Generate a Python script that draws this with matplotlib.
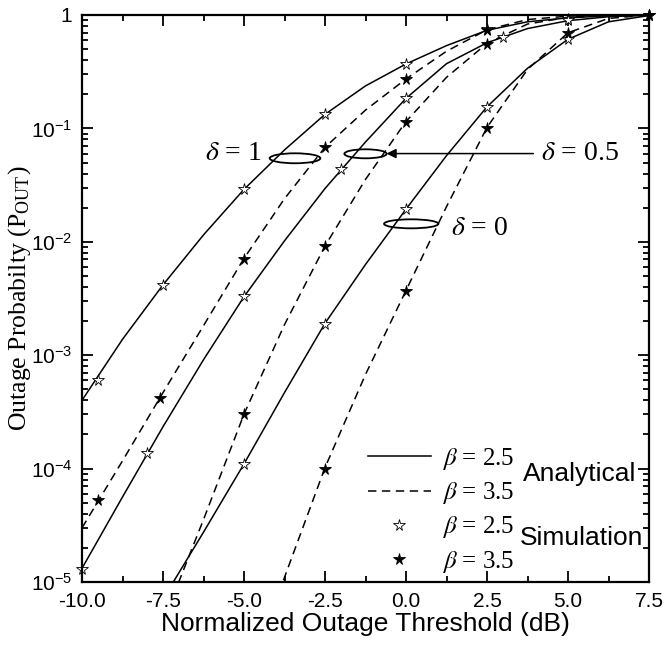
import numpy as np
import matplotlib
matplotlib.use("Agg")
import matplotlib.pyplot as plt
from matplotlib.lines import Line2D
from matplotlib.patches import Ellipse
from matplotlib.ticker import FixedLocator, LogLocator, NullFormatter, FuncFormatter

plt.rcParams['mathtext.fontset'] = 'stix'

# ---------------- data ----------------
x_grid = [-10, -8.75, -7.5, -6.25, -5, -3.75, -2.5, -1.25, 0, 1.25, 2.5, 3.75, 5, 6.25, 7.5]

# delta = 1
d1_b25_x = x_grid
d1_b25_p = [4.0e-4, 1.38e-3, 4.17e-3, 1.15e-2, 2.90e-2, 6.46e-2, 0.133, 0.237, 0.370, 0.537, 0.733, 0.871, 0.944, 0.982, 0.995]
d1_b35_x = x_grid
d1_b35_p = [3.0e-5, 1.17e-4, 4.68e-4, 1.82e-3, 7.14e-3, 2.40e-2, 6.81e-2, 0.145, 0.273, 0.479, 0.741, 0.912, 0.977, 0.995, 1.0]

# delta = 0.5
d05_b25_x = x_grid
d05_b25_p = [1.32e-5, 5.62e-5, 2.34e-4, 9.12e-4, 3.28e-3, 1.02e-2, 2.95e-2, 7.59e-2, 0.184, 0.372, 0.569, 0.759, 0.891, 0.966, 0.995]
d05_b35_x = [-7.5, -6.25, -5, -3.75, -2.5, -1.25, 0, 1.25, 2.5, 3.75, 5, 6.25, 7.5]
d05_b35_p = [4.47e-6, 3.55e-5, 3.02e-4, 1.86e-3, 9.18e-3, 3.55e-2, 0.115, 0.282, 0.562, 0.832, 0.955, 0.991, 1.0]

# delta = 0
d0_b25_x = [-7.5, -6.25, -5, -3.75, -2.5, -1.25, 0, 1.25, 2.5, 3.75, 5, 6.25, 7.5]
d0_b25_p = [7.08e-6, 2.75e-5, 1.10e-4, 4.68e-4, 1.91e-3, 6.31e-3, 1.94e-2, 5.75e-2, 0.155, 0.339, 0.611, 0.871, 0.989]
d0_b35_x = [-5, -3.75, -2.5, -1.25, 0, 1.25, 2.5, 3.75, 5, 6.25, 7.5]
d0_b35_p = [1.0e-6, 1.10e-5, 1.02e-4, 6.76e-4, 3.72e-3, 2.04e-2, 0.102, 0.331, 0.698, 0.933, 1.0]

# simulation points, beta = 2.5 (hollow stars)
sim25_d1_x = [-9.5, -7.5, -5, -2.5, 0, 2.5, 5, 7.5]
sim25_d1_p = [6.0e-4, 4.2e-3, 2.9e-2, 0.133, 0.37, 0.75, 0.93, 0.99]
sim25_d05_x = [-10, -8, -5, -2, 0, 3, 5]
sim25_d05_p = [1.3e-5, 1.36e-4, 3.3e-3, 4.4e-2, 0.184, 0.64, 0.90]
sim25_d0_x = [-5, -2.5, 0, 2.5, 5, 7.5]
sim25_d0_p = [1.1e-4, 1.9e-3, 1.94e-2, 0.155, 0.61, 0.99]

# simulation points, beta = 3.5 (filled stars)
sim35_d1_x = [-9.5, -7.6, -5, -2.5, 0, 2.5]
sim35_d1_p = [5.3e-5, 4.2e-4, 7.1e-3, 6.8e-2, 0.27, 0.74]
sim35_d05_x = [-5, -2.5, 0, 2.5]
sim35_d05_p = [3.0e-4, 9.2e-3, 0.115, 0.56]
sim35_d0_x = [-2.5, 0, 2.5, 5, 7.5]
sim35_d0_p = [1.0e-4, 3.7e-3, 0.10, 0.70, 0.99]

x_ticks = [-10.0, -7.5, -5.0, -2.5, 0.0, 2.5, 5.0, 7.5]
x_tick_labels = ['-10.0', '-7.5', '-5.0', '-2.5', '0.0', '2.5', '5.0', '7.5']
legend_labels = [r'$\beta$ = 2.5', r'$\beta$ = 3.5', r'$\beta$ = 2.5', r'$\beta$ = 3.5']

# ---------------- figure ----------------
W, H = 667, 645
fig = plt.figure(figsize=(W / 100, H / 100), dpi=100)
ax = fig.add_axes([82 / W, (H - 582) / H, 567 / W, 567 / H])

LW = 1.1
DASH = (0, (5.5, 3.6))
solid_kw = dict(color='black', lw=LW, ls='-')
dash_kw = dict(color='black', lw=LW, ls=DASH)
hollow_kw = dict(ls='none', marker='*', ms=8.5, mfc='white', mec='black', mew=0.6)
filled_kw = dict(ls='none', marker='*', ms=8.5, mfc='black', mec='black', mew=0.6)

for xs, ps in [(d1_b25_x, d1_b25_p), (d05_b25_x, d05_b25_p), (d0_b25_x, d0_b25_p)]:
    ax.plot(xs, ps, **solid_kw)
for xs, ps in [(d1_b35_x, d1_b35_p), (d05_b35_x, d05_b35_p), (d0_b35_x, d0_b35_p)]:
    ax.plot(xs, ps, **dash_kw)
for xs, ps in [(sim25_d1_x, sim25_d1_p), (sim25_d05_x, sim25_d05_p), (sim25_d0_x, sim25_d0_p)]:
    ax.plot(xs, ps, clip_on=False, **hollow_kw)
for xs, ps in [(sim35_d1_x, sim35_d1_p), (sim35_d05_x, sim35_d05_p), (sim35_d0_x, sim35_d0_p)]:
    ax.plot(xs, ps, clip_on=False, **filled_kw)

ax.set_yscale('log')
ax.set_xlim(-10, 7.5)
ax.set_ylim(1e-5, 1)

ax.xaxis.set_major_locator(FixedLocator(x_ticks))
ax.set_xticklabels(x_tick_labels)
ax.xaxis.set_minor_locator(FixedLocator(np.arange(-8.75, 7.5, 2.5)))
ax.yaxis.set_major_locator(LogLocator(base=10, numticks=10))
ax.yaxis.set_minor_locator(LogLocator(base=10, subs=np.arange(2, 10), numticks=20))
ax.yaxis.set_minor_formatter(NullFormatter())


def yfmt(v, pos):
    e = int(round(np.log10(v)))
    if e == 0:
        return '1'
    return r'$\mathregular{10^{%d}}$' % e


ax.yaxis.set_major_formatter(FuncFormatter(yfmt))

ax.tick_params(which='both', direction='in', top=True, right=True, width=1.3, colors='black')
ax.tick_params(which='major', length=8, pad=7, labelsize=15)
ax.tick_params(which='minor', length=4.5)
for lab in ax.get_xticklabels() + ax.get_yticklabels():
    lab.set_family('Liberation Sans')
for s in ax.spines.values():
    s.set_linewidth(1.6)

ax.set_xlabel('Normalized Outage Threshold (dB)', family='Liberation Sans', fontsize=19, labelpad=1)
ax.set_ylabel(r'Outage Probabilty (P$_{\mathregular{OUT}}$)', family='Liberation Serif', fontsize=18.5)
ax.yaxis.set_label_coords(-0.086, 0.5)

# ---------------- annotations ----------------
for cx, cy, w, h in [(0.3757, 0.7473, 0.0894, 0.0176), (0.5000, 0.7552, 0.0746, 0.0159), (0.5806, 0.6317, 0.0958, 0.0159)]:
    ax.add_patch(Ellipse((cx, cy), w, h, transform=ax.transAxes, fill=False, ec='black', lw=1.3))

tkw = dict(transform=ax.transAxes, family='Liberation Serif', fontsize=20, va='center')
ax.text(0.316, 0.755, r'$\delta$ = 1', ha='right', **tkw)
ax.text(0.809, 0.7557, r'$\delta$ = 0.5', ha='left', **tkw)
ax.text(0.650, 0.6243, r'$\delta$ = 0', ha='left', **tkw)
ax.annotate('', xy=(0.537, 0.7556), xycoords='axes fraction', xytext=(0.796, 0.7556), textcoords='axes fraction',
            arrowprops=dict(arrowstyle='-|>', color='black', lw=1.1, mutation_scale=14, shrinkA=0, shrinkB=0))

# ---------------- legend ----------------
handles = [Line2D([], [], **solid_kw), Line2D([], [], **dash_kw),
           Line2D([], [], **hollow_kw), Line2D([], [], **filled_kw)]
leg = ax.legend(handles, legend_labels, loc='upper left', bbox_to_anchor=((368 - 82) / 567, 1 - (446 - 15) / 567),
                frameon=False, borderpad=0, borderaxespad=0, handlelength=2.5, handletextpad=0.45,
                labelspacing=0.33, prop={'family': 'Liberation Serif', 'size': 18})

ax.text((523 - 82) / 567, 1 - (474 - 15) / 567, 'Analytical', transform=ax.transAxes, family='Liberation Sans',
        fontsize=19, ha='left', va='center')
ax.text((520 - 82) / 567, 1 - (538 - 15) / 567, 'Simulation', transform=ax.transAxes, family='Liberation Sans',
        fontsize=19, ha='left', va='center')

fig.savefig('out.png', dpi=100)
